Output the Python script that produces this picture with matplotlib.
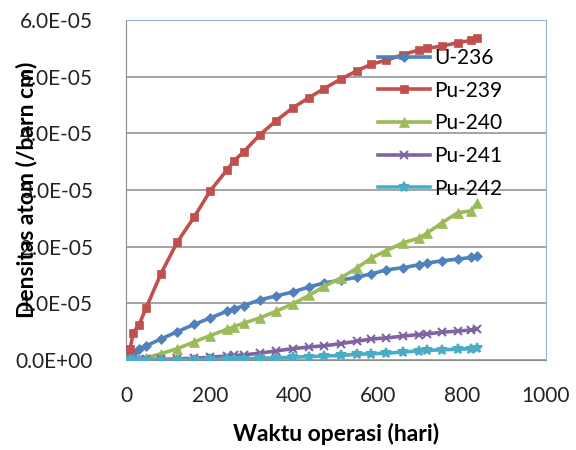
import numpy as np
import matplotlib
matplotlib.use('Agg')
import matplotlib.pyplot as plt
from matplotlib.ticker import FuncFormatter, MultipleLocator

plt.rcParams['font.family'] = ['Lato', 'DejaVu Sans']

# waktu operasi (hari)
days = [0, 10, 17, 31, 48, 83, 122, 163, 200, 240, 258, 280, 318, 357, 397,
        436, 472, 512, 549, 584, 620, 660, 697, 717, 752, 790, 822, 836]

# densitas atom, dalam satuan 1E-05 /barn cm
u236 = [0, 0.08, 0.13, 0.20, 0.25, 0.37, 0.50, 0.63, 0.74, 0.86, 0.90, 0.96, 1.06, 1.13, 1.20,
        1.29, 1.36, 1.41, 1.46, 1.52, 1.59, 1.63, 1.68, 1.71, 1.75, 1.78, 1.81, 1.83]
pu239 = [0, 0.20, 0.48, 0.62, 0.92, 1.52, 2.08, 2.53, 2.98, 3.35, 3.52, 3.67, 3.97, 4.22, 4.45,
         4.63, 4.79, 4.96, 5.10, 5.22, 5.29, 5.39, 5.47, 5.50, 5.54, 5.60, 5.64, 5.68]
pu240 = [0, 0.0, 0.01, 0.02, 0.04, 0.11, 0.20, 0.32, 0.43, 0.54, 0.59, 0.65, 0.74, 0.86, 0.99,
         1.14, 1.30, 1.45, 1.62, 1.80, 1.93, 2.07, 2.15, 2.24, 2.42, 2.60, 2.63, 2.77]
pu241 = [0, 0, 0, 0, 0.01, 0.01, 0.02, 0.03, 0.05, 0.07, 0.08, 0.09, 0.12, 0.16, 0.20,
         0.23, 0.25, 0.29, 0.33, 0.37, 0.39, 0.42, 0.45, 0.46, 0.49, 0.51, 0.53, 0.55]
pu242 = [0, 0, 0, 0, 0, 0, 0, 0.005, 0.01, 0.015, 0.02, 0.02, 0.03, 0.035, 0.05,
         0.06, 0.07, 0.08, 0.10, 0.11, 0.12, 0.14, 0.16, 0.17, 0.18, 0.19, 0.20, 0.21]

names = ['U-236', 'Pu-239', 'Pu-240', 'Pu-241', 'Pu-242']
series = [u236, pu239, pu240, pu241, pu242]
colors = ['#4F81BD', '#C0504D', '#9BBB59', '#8064A2', '#4BACC6']
markers = ['D', 's', '^', 'x', '*']
msizes = [5, 6, 6.5, 6, 7]

fig = plt.figure(figsize=(5.76, 4.5), dpi=100)
ax = fig.add_axes([126/576, 1-360/450, 420/576, 340/450])

for vals, name, c, m, ms in zip(series, names, colors, markers, msizes):
    ax.plot(days, np.array(vals)*1e-5, color=c, marker=m, markersize=ms, lw=2.6,
            markeredgewidth=1.5 if m in ('x', '*') else 0.5, label=name, zorder=3)

ax.set_xlim(0, 1000)
ax.set_ylim(0, 6e-5)
ax.xaxis.set_major_locator(MultipleLocator(200))
ax.yaxis.set_major_locator(MultipleLocator(1e-5))
ax.yaxis.set_major_formatter(FuncFormatter(lambda v, p: f"{v:.1E}"))
ax.grid(axis='y', color='#8C8C8C', lw=1.1)
ax.set_axisbelow(True)
ax.tick_params(length=0, labelsize=15, colors='#222222')
ax.tick_params(axis='y', pad=24)
ax.tick_params(axis='x', pad=19)
ax.spines['left'].set_color('#8C8C8C')
ax.spines['bottom'].set_color('#8C8C8C')
ax.spines['top'].set_color('#95B3D7')
ax.spines['right'].set_color('#95B3D7')

ax.set_xlabel('Waktu operasi (hari)', fontsize=16.5, fontweight='bold')
ax.xaxis.set_label_coords(0.5, -0.185)
ax.set_ylabel('Densitas atom (/barn cm)', fontsize=16.5, fontweight='bold')
ax.yaxis.set_label_coords(-0.21, 0.5)

ax.legend(loc='upper left', bbox_to_anchor=(0.6, 0.918), frameon=False, fontsize=15,
          borderpad=0, borderaxespad=0, handlelength=2.5, handletextpad=0.2,
          labelspacing=0.61, numpoints=1)

fig.savefig('out.png', dpi=100)
